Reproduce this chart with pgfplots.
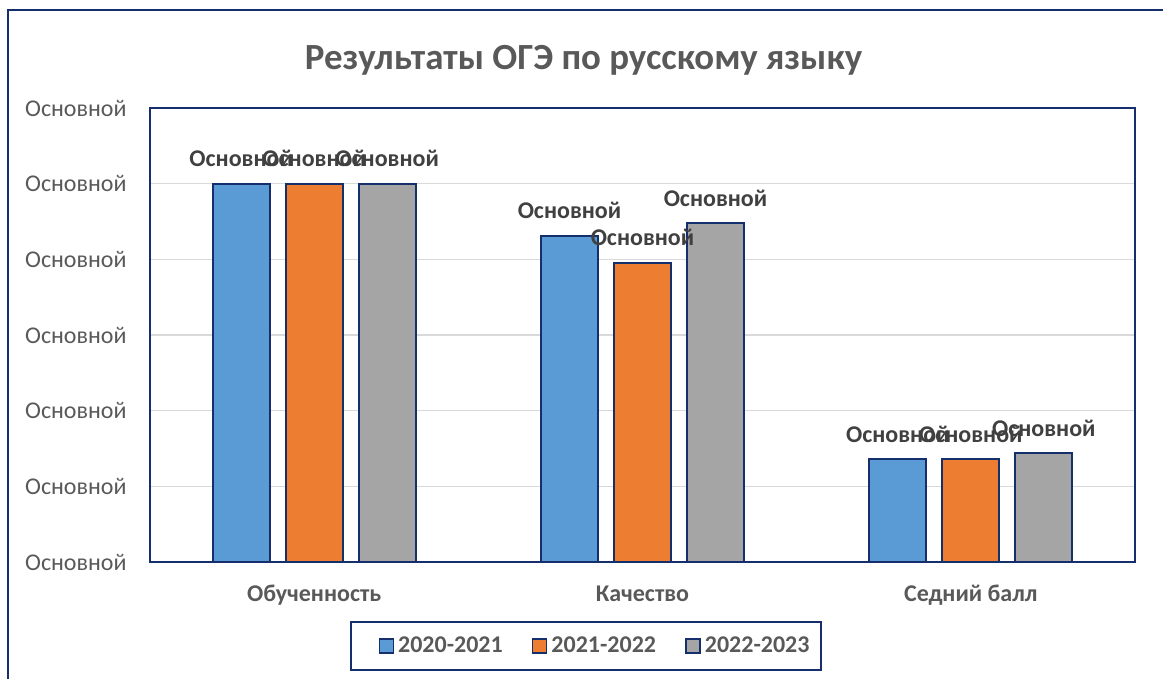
\documentclass[border=0pt]{standalone}
\usepackage{pgfplots}
\pgfplotsset{compat=1.18}
\usepackage{fontspec}
\setmainfont{Carlito}
\definecolor{navy}{HTML}{142F6B}
\definecolor{cblue}{HTML}{5B9BD5}
\definecolor{corange}{HTML}{ED7D31}
\definecolor{cgray}{HTML}{A5A5A5}
\definecolor{tgray}{HTML}{595959}
\definecolor{lgray}{HTML}{404040}
\definecolor{gridc}{HTML}{D9D9D9}
\begin{document}
\begin{tikzpicture}
\useasboundingbox (0,0) rectangle (581.5pt,-339.5pt);
\draw[navy, line width=1pt] (4pt,-345pt) -- (4pt,-5pt) -- (590pt,-5pt);
\node[font=\bfseries\fontsize{18.45}{22}\selectfont, text=tgray, anchor=base, inner sep=0pt] at (291.75pt,-35pt) {Результаты ОГЭ по русскому языку};
\begin{axis}[
  at={(75pt,-281pt)}, anchor=south west,
  scale only axis, width=492.5pt, height=227pt,
  xmin=-0.5, xmax=2.5, ymin=0, ymax=120,
  xtick={0,1,2},
  xticklabels={Обученность,Качество,Седний балл},
  ytick={0,20,40,60,80,100,120},
  yticklabel={Основной},
  major tick length=0pt,
  ymajorgrids,
  grid style={color=gridc, line width=0.75pt},
  axis line style={navy, line width=1pt},
  xticklabel style={anchor=base, yshift=-19.5pt, inner sep=0pt, font=\bfseries\fontsize{12}{14}\selectfont, text=tgray},
  yticklabel style={anchor=east, xshift=-11.5pt, inner sep=0pt, font=\fontsize{12}{14}\selectfont, text=tgray},
  ybar=8pt, bar width=28.5pt,
  clip=false,
  nodes near coords={Основной},
  every node near coord/.append style={anchor=center, yshift=12.5pt, font=\bfseries\fontsize{12}{14}\selectfont, text=lgray},
  legend columns=3,
  legend style={draw=navy, line width=1pt, at={(axis description cs:0.4426,-0.185)}, anchor=center,
    font=\bfseries\fontsize{12}{14}\selectfont, text=tgray,
    inner xsep=3.5pt, inner ysep=5.5pt,
    /tikz/every even column/.append style={column sep=2.5pt},
    /tikz/every odd column/.append style={column sep=0pt}},
  legend cell align=left,
  legend image code/.code={\path (0pt,0pt); \draw[#1, draw=navy, line width=0.8pt] (10pt,-3.5pt) rectangle (17pt,3.5pt);},
]
\addplot[fill=cblue, draw=navy, line width=0.9pt] coordinates {(0,100) (1,86.2) (2,27.25)};
\addplot[fill=corange, draw=navy, line width=0.9pt] coordinates {(0,100) (1,79.1) (2,27.25)};
\addplot[fill=cgray, draw=navy, line width=0.9pt] coordinates {(0,100) (1,89.6) (2,28.8)};
\legend{2020-2021,2021-2022,2022-2023}
\end{axis}
\end{tikzpicture}
\end{document}
